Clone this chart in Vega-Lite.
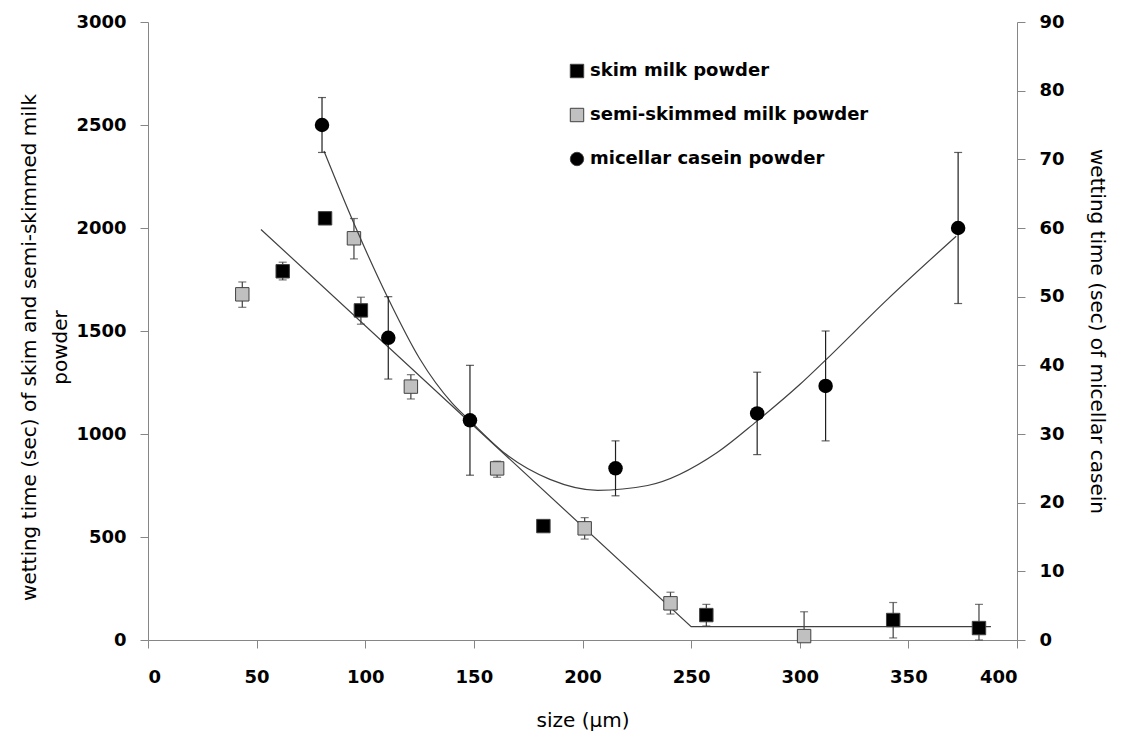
{
  "$schema": "https://vega.github.io/schema/vega-lite/v6.json",
  "width": 869,
  "height": 618,
  "autosize": "none",
  "padding": {"left": 148, "top": 22, "right": 107, "bottom": 95},
  "background": "white",
  "config": {
    "view": {"stroke": null},
    "font": "DejaVu Sans",
    "axis": {
      "grid": false,
      "domainColor": "#868686",
      "tickColor": "#868686",
      "tickSize": 8,
      "labelFont": "DejaVu Sans",
      "labelFontWeight": "bold",
      "labelFontSize": 18,
      "labelColor": "black",
      "titleFont": "DejaVu Sans",
      "titleFontWeight": "normal",
      "titleFontSize": 20,
      "titleColor": "black"
    },
    "legend": {
      "orient": "none",
      "legendX": 420,
      "legendY": 40,
      "labelFont": "DejaVu Sans",
      "labelFontSize": 18,
      "labelFontWeight": "bold",
      "labelColor": "black",
      "labelLimit": 0,
      "symbolSize": 180,
      "rowPadding": 26,
      "labelOffset": 4,
      "symbolStrokeColor": "#404040",
      "symbolStrokeWidth": 1,
      "padding": 0
    }
  },
  "datasets": {
    "milk": [
      {"series": "skim milk powder", "size": 62, "time": 1790, "lo": 1748, "hi": 1834},
      {"series": "skim milk powder", "size": 81.5, "time": 2047, "lo": 2047, "hi": 2047},
      {"series": "skim milk powder", "size": 98, "time": 1600, "lo": 1533, "hi": 1664},
      {"series": "skim milk powder", "size": 182, "time": 553, "lo": 553, "hi": 553},
      {"series": "skim milk powder", "size": 257, "time": 121, "lo": 68, "hi": 173},
      {"series": "skim milk powder", "size": 343, "time": 97, "lo": 10, "hi": 182},
      {"series": "skim milk powder", "size": 382.5, "time": 58, "lo": 0, "hi": 173},
      {"series": "semi-skimmed milk powder", "size": 43.4, "time": 1678, "lo": 1615, "hi": 1738},
      {"series": "semi-skimmed milk powder", "size": 94.8, "time": 1950, "lo": 1850, "hi": 2046},
      {"series": "semi-skimmed milk powder", "size": 121, "time": 1230, "lo": 1170, "hi": 1288},
      {"series": "semi-skimmed milk powder", "size": 160.7, "time": 833, "lo": 790, "hi": 868},
      {"series": "semi-skimmed milk powder", "size": 201, "time": 542, "lo": 490, "hi": 594},
      {"series": "semi-skimmed milk powder", "size": 240.5, "time": 178, "lo": 126, "hi": 232},
      {"series": "semi-skimmed milk powder", "size": 302, "time": 19, "lo": 0, "hi": 137}
    ],
    "casein": [
      {"series": "micellar casein powder", "size": 80.1, "time": 75, "lo": 71, "hi": 79},
      {"series": "micellar casein powder", "size": 110.6, "time": 44, "lo": 38, "hi": 50},
      {"series": "micellar casein powder", "size": 148.2, "time": 32, "lo": 24, "hi": 40},
      {"series": "micellar casein powder", "size": 215.2, "time": 25, "lo": 21, "hi": 29},
      {"series": "micellar casein powder", "size": 280.4, "time": 33, "lo": 27, "hi": 39},
      {"series": "micellar casein powder", "size": 311.9, "time": 37, "lo": 29, "hi": 45},
      {"series": "micellar casein powder", "size": 372.9, "time": 60, "lo": 49, "hi": 71}
    ],
    "milkfit": [
      {"size": 52, "fit": 1993},
      {"size": 250, "fit": 65},
      {"size": 388, "fit": 65}
    ],
    "caseinfit": [
      {"size": 81, "fit": 71.2},
      {"size": 95, "fit": 60.5},
      {"size": 110.6, "fit": 49.7},
      {"size": 125, "fit": 41.0},
      {"size": 140, "fit": 34.5},
      {"size": 148, "fit": 32.0},
      {"size": 165, "fit": 27.0},
      {"size": 185, "fit": 23.4},
      {"size": 207, "fit": 21.8},
      {"size": 230, "fit": 22.5},
      {"size": 262, "fit": 27.3},
      {"size": 280, "fit": 31.8},
      {"size": 300, "fit": 37.2},
      {"size": 312, "fit": 40.8},
      {"size": 340, "fit": 49.5},
      {"size": 372, "fit": 58.8}
    ]
  },
  "encoding": {
    "x": {
      "field": "size",
      "type": "quantitative",
      "scale": {"domain": [0, 400], "nice": false, "zero": false},
      "axis": {
        "title": "size (μm)",
        "values": [0, 50, 100, 150, 200, 250, 300, 350, 400],
        "format": "d",
        "labelPadding": 20,
        "titlePadding": 24
      }
    }
  },
  "layer": [
    {
      "layer": [
        {
          "data": {"name": "milkfit"},
          "mark": {"type": "line", "color": "#404040", "strokeWidth": 1.2},
          "encoding": {
            "y": {"field": "fit", "type": "quantitative", "scale": {"domain": [0, 3000], "nice": false},
              "axis": {"orient": "left", "title": ["wetting time (sec) of skim and semi-skimmed milk", "powder"], "values": [0, 500, 1000, 1500, 2000, 2500, 3000], "format": "d", "labelPadding": 14, "titlePadding": 5, "titleLineHeight": 31, "titleY": 325}}
          }
        },
        {
          "data": {"name": "milk"},
          "mark": {"type": "rule", "color": "#404040", "strokeWidth": 1.2},
          "encoding": {
            "y": {"field": "lo", "type": "quantitative"},
            "y2": {"field": "hi"}
          }
        },
        {
          "data": {"name": "milk"},
          "mark": {"type": "tick", "orient": "horizontal", "color": "#404040", "size": 8, "thickness": 1.2},
          "encoding": {"y": {"field": "hi", "type": "quantitative"}}
        },
        {
          "data": {"name": "milk"},
          "mark": {"type": "tick", "orient": "horizontal", "color": "#404040", "size": 8, "thickness": 1.2},
          "encoding": {"y": {"field": "lo", "type": "quantitative"}}
        },
        {
          "data": {"name": "milk"},
          "mark": {"type": "point", "filled": true, "opacity": 1, "size": 180, "stroke": "#404040", "strokeWidth": 1},
          "encoding": {
            "y": {"field": "time", "type": "quantitative"},
            "color": {"field": "series", "type": "nominal",
              "scale": {"domain": ["skim milk powder", "semi-skimmed milk powder", "micellar casein powder"], "range": ["#000000", "#c0c0c0", "#000000"]},
              "legend": {"title": null}},
            "shape": {"field": "series", "type": "nominal",
              "scale": {"domain": ["skim milk powder", "semi-skimmed milk powder", "micellar casein powder"], "range": ["square", "square", "circle"]},
              "legend": {"title": null}}
          }
        }
      ]
    },
    {
      "layer": [
        {
          "data": {"name": "caseinfit"},
          "mark": {"type": "line", "color": "#404040", "strokeWidth": 1.2, "interpolate": "monotone"},
          "encoding": {
            "y": {"field": "fit", "type": "quantitative", "scale": {"domain": [0, 90], "nice": false},
              "axis": {"orient": "right", "title": "wetting time  (sec) of micellar casein", "values": [0, 10, 20, 30, 40, 50, 60, 70, 80, 90], "labelPadding": 14, "titlePadding": 22}}
          }
        },
        {
          "data": {"name": "casein"},
          "mark": {"type": "rule", "color": "#202020", "strokeWidth": 1.2},
          "encoding": {
            "y": {"field": "lo", "type": "quantitative"},
            "y2": {"field": "hi"}
          }
        },
        {
          "data": {"name": "casein"},
          "mark": {"type": "tick", "orient": "horizontal", "color": "#202020", "size": 8, "thickness": 1.2},
          "encoding": {"y": {"field": "hi", "type": "quantitative"}}
        },
        {
          "data": {"name": "casein"},
          "mark": {"type": "tick", "orient": "horizontal", "color": "#202020", "size": 8, "thickness": 1.2},
          "encoding": {"y": {"field": "lo", "type": "quantitative"}}
        },
        {
          "data": {"name": "casein"},
          "mark": {"type": "point", "filled": true, "opacity": 1, "size": 210},
          "encoding": {
            "y": {"field": "time", "type": "quantitative"},
            "color": {"field": "series", "type": "nominal"},
            "shape": {"field": "series", "type": "nominal"}
          }
        }
      ]
    }
  ],
  "resolve": {"scale": {"y": "independent"}}
}
